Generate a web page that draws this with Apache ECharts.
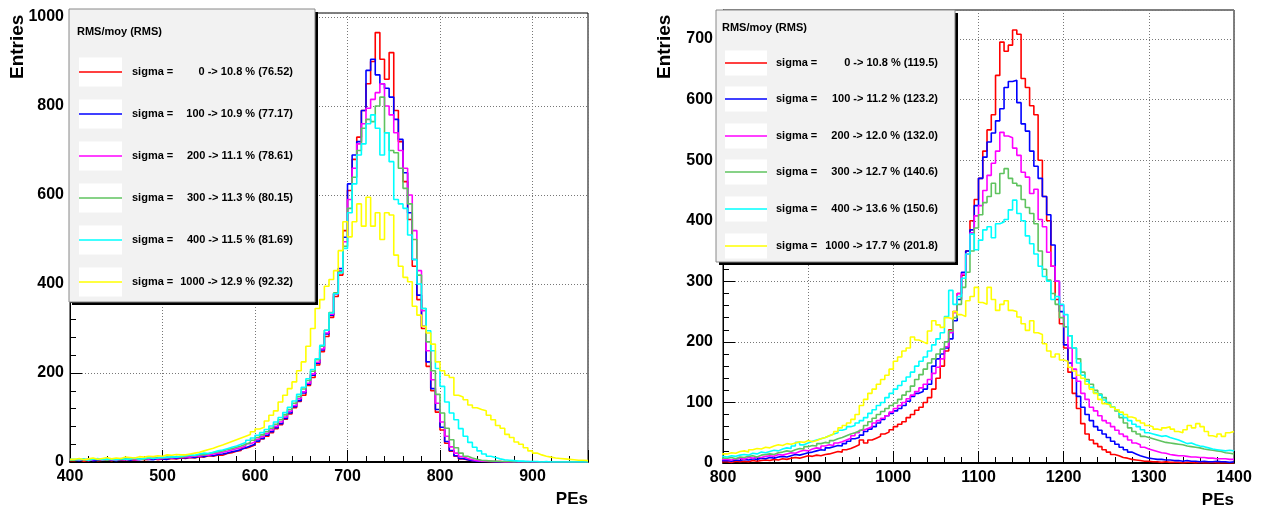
<!DOCTYPE html>
<html><head><meta charset="utf-8">
<script src="https://cdn.jsdelivr.net/npm/echarts@6/dist/echarts.min.js"></script>
<style>html,body{margin:0;padding:0;background:#fff}#c{width:1261px;height:511px}</style>
</head><body><div id="c"></div>
<script>
const FONT = '"Liberation Sans", Arial, Helvetica, sans-serif';
const seriesColors = ['#ff0000', '#0000ff', '#ff00ff', '#5fc35f', '#00ffff', '#ffff00'];
const legendTitle = 'RMS/moy (RMS)';
const legendPrefix = 'sigma =';
const leftLegendValues = ['0 -> 10.8 % (76.52)', '100 -> 10.9 % (77.17)', '200 -> 11.1 % (78.61)', '300 -> 11.3 % (80.15)', '400 -> 11.5 % (81.69)', '1000 -> 12.9 % (92.32)'];
const rightLegendValues = ['0 -> 10.8 % (119.5)', '100 -> 11.2 % (123.2)', '200 -> 12.0 % (132.0)', '300 -> 12.7 % (140.6)', '400 -> 13.6 % (150.6)', '1000 -> 17.7 % (201.8)'];
const xAxisTitle = 'PEs';
const yAxisTitle = 'Entries';

// Left panel: bins of 5 PE starting at 400
const leftBinStart = 400, leftBinWidth = 5;
const leftSigma0 = [
 3,5,2,4,6,3,4,5,3,6,4,5,
 5,4,7,5,6,8,5,7,6,8,7,9,
 8,10,9,12,11,14,13,16,15,19,21,24,
 26,31,34,38,45,52,58,66,75,84,96,108,
 122,136,150,172,190,218,248,282,325,372,420,520,
 610,680,730,790,850,900,965,905,860,920,790,720,
 630,545,440,365,300,215,160,112,72,42,24,13,
 7,5,3,2,2,1,1,0,1,0,0,0,
 0,0,0,0,0,0,0,0,0,0,0,0,0,0,0,0];
const leftSigma100 = [
 4,3,5,6,3,4,6,4,5,3,5,6,
 4,6,5,7,6,5,8,7,6,9,8,10,
 9,11,10,13,12,15,14,17,18,20,23,25,
 28,32,36,40,47,53,60,68,77,86,98,110,
 124,138,155,175,195,222,252,288,330,378,435,505,
 625,690,720,790,880,905,870,850,840,820,770,725,
 650,560,455,375,305,225,165,118,78,46,26,14,
 8,5,3,2,1,1,1,0,0,1,0,0,
 0,0,0,0,0,0,0,0,0,0,0,0,0,0,0,0];
const leftSigma200 = [
 5,4,6,3,5,7,4,6,5,4,6,5,
 7,5,6,8,6,9,7,8,10,9,11,10,
 12,11,14,13,16,15,18,20,22,24,27,30,
 32,36,41,45,51,57,64,72,80,90,101,114,
 127,142,158,177,198,224,254,290,332,378,430,495,
 590,660,715,760,795,815,830,850,800,780,740,700,
 660,600,520,430,340,250,185,132,90,58,34,20,
 12,8,5,3,2,2,1,1,1,0,0,1,
 0,0,1,0,0,0,0,0,0,0,0,0,0,0,0,0];
const leftSigma300 = [
 4,6,5,4,7,5,6,4,7,5,6,7,
 6,8,7,6,9,8,10,9,11,10,12,11,
 13,15,14,17,16,19,21,23,25,28,30,33,
 36,40,44,49,55,61,68,76,85,95,106,118,
 132,147,164,183,204,230,260,296,336,380,428,485,
 570,640,700,750,770,765,800,820,740,700,695,660,
 615,580,500,420,345,270,205,152,110,76,50,32,
 20,13,9,6,4,3,2,2,1,1,1,0,
 1,0,0,1,0,0,0,0,0,0,0,0,0,0,0,0];
const leftSigma400 = [
 6,5,7,4,6,8,5,7,6,5,8,6,
 7,9,6,8,10,8,9,11,10,12,11,13,
 14,16,15,18,20,19,22,25,27,30,33,36,
 40,44,49,54,60,66,73,81,90,100,111,123,
 137,152,168,187,208,232,262,296,335,378,425,480,
 560,625,690,715,760,780,750,690,740,675,590,580,
 570,510,455,400,345,295,250,210,170,135,110,95,
 75,58,44,33,25,18,13,10,7,5,4,3,
 2,2,1,1,1,0,1,0,0,0,0,0,0,0,0,0];
const leftSigma1000 = [
 6,8,5,7,9,6,8,10,7,9,8,11,
 10,9,12,11,13,12,14,13,16,15,17,16,
 16,18,20,22,25,28,31,35,38,42,46,50,
 54,58,62,68,74,78,92,105,115,135,150,165,
 180,205,225,260,300,345,365,395,410,430,475,540,
 506,540,580,530,595,530,560,500,560,555,465,440,
 415,405,350,330,305,290,265,225,205,195,190,150,
 146,140,128,122,118,115,105,95,82,76,62,55,
 45,40,32,25,20,16,13,11,9,8,7,6,5,4,4,3];

// Right panel: bins of 5 PE starting at 790
const rightBinStart = 790, rightBinWidth = 5;
const rightSigma0 = [
 1,2,
 2,1,3,2,3,2,4,3,4,5,
 4,6,5,7,6,8,9,8,10,12,
 11,13,12,14,15,17,19,18,22,24,
 27,30,38,33,38,41,44,48,51,55,
 60,64,68,75,80,87,92,100,108,122,
 140,160,185,220,250,280,310,350,400,435,
 470,515,550,575,640,695,680,690,715,708,
 635,620,590,575,500,440,400,325,270,230,
 190,150,115,90,65,48,38,32,27,22,
 18,14,12,9,8,6,5,4,3,3,
 2,2,1,2,1,1,1,0,1,1,0,1,0,0,1,0,0,0,0,0];
const rightSigma100 = [
 3,4,
 4,3,5,4,6,5,7,6,8,7,
 9,8,10,11,10,12,14,13,15,17,
 18,20,22,21,25,27,29,28,32,36,
 40,42,46,52,56,60,66,72,78,82,
 86,90,95,102,110,115,118,122,130,160,
 172,180,190,205,235,270,315,350,385,425,
 470,505,530,545,565,585,620,630,632,595,
 560,548,515,490,470,440,410,360,300,250,
 195,165,140,110,92,80,70,60,54,48,
 42,36,31,26,22,18,15,12,10,8,
 7,6,6,5,5,4,4,3,4,3,3,2,3,2,2,3,2,2,1,2];
const rightSigma200 = [
 5,6,
 6,5,7,8,6,9,8,10,9,11,
 12,11,14,13,15,17,16,19,21,20,
 23,25,24,28,30,29,33,35,38,41,
 45,50,54,57,60,66,70,74,78,84,
 90,95,100,106,112,118,124,130,138,148,
 158,172,192,215,248,280,312,345,380,408,
 425,450,475,495,515,546,540,537,520,508,
 480,472,445,452,402,390,348,325,300,260,
 225,190,155,135,115,105,92,86,78,70,
 66,60,54,48,44,38,33,30,26,23,
 21,19,17,16,14,13,12,12,11,10,10,9,9,8,8,7,7,7,6,6];
const rightSigma300 = [
 7,8,
 8,9,7,10,9,11,12,10,13,14,
 15,14,17,18,20,19,22,24,23,27,
 29,28,32,34,33,37,40,42,45,48,
 50,53,56,62,68,74,80,85,90,95,
 99,105,112,118,127,138,146,155,165,172,
 180,188,200,218,240,262,290,315,350,388,
 410,430,440,462,445,478,486,470,462,458,
 435,422,412,395,350,320,302,280,262,240,
 225,210,190,172,150,138,130,120,114,108,
 100,92,86,75,66,58,52,48,44,42,
 40,38,36,34,33,32,31,30,28,27,26,25,23,22,21,20,19,17,16,15];
const rightSigma400 = [
 9,11,
 10,12,11,13,14,13,16,15,18,17,
 19,21,20,23,25,24,28,34,30,33,
 36,38,40,42,45,48,50,54,56,60,
 62,66,70,75,82,88,95,100,108,115,
 122,128,135,142,150,160,168,175,185,195,
 205,215,242,285,262,275,305,345,378,352,
 368,385,390,372,395,398,402,418,434,412,
 400,375,362,345,325,308,300,270,275,262,
 245,210,190,165,145,135,125,116,112,104,
 98,93,88,80,75,70,64,60,55,50,
 48,46,44,45,42,40,38,35,32,33,30,28,27,25,23,22,21,20,21,20];
const rightSigma1000 = [
 14,15,
 15,17,16,19,20,18,22,24,23,26,
 25,28,30,29,32,31,33,35,34,37,
 35,37,40,42,45,48,52,58,62,66,
 72,80,95,105,115,122,130,138,145,155,
 168,175,185,190,208,203,200,197,218,235,
 228,224,240,238,250,245,242,268,275,290,
 265,262,290,270,252,262,268,252,250,241,
 230,219,235,215,212,197,185,175,180,170,
 168,158,152,145,140,130,122,115,105,98,
 96,92,88,84,80,76,74,70,66,62,
 60,56,54,58,60,56,52,50,55,62,58,65,60,52,45,43,48,44,50,52];

const leftSeriesValues = [leftSigma0, leftSigma100, leftSigma200, leftSigma300, leftSigma400, leftSigma1000];
const rightSeriesValues = [rightSigma0, rightSigma100, rightSigma200, rightSigma300, rightSigma400, rightSigma1000];

function histData(start, w, vals) {
  const d = vals.map((v, i) => [start + i * w, v]);
  d.push([start + vals.length * w, vals[vals.length - 1]]);
  return d;
}

const chart = echarts.init(document.getElementById('c'), null, {renderer: 'canvas'});

function xAxisCfg(grid, min, max) {
  return {
    gridIndex: grid, type: 'value', min: min, max: max, interval: 100,
    axisLine: {show: true, onZero: false, lineStyle: {color: '#000', width: 2}},
    axisTick: {show: true, inside: true, length: 12, lineStyle: {color: '#000', width: 1}},
    minorTick: {show: true, splitNumber: 5, length: 6, lineStyle: {color: '#000', width: 1}},
    axisLabel: {color: '#000', fontFamily: FONT, fontWeight: 'bold', fontSize: 16, margin: 7,
      showMaxLabel: false, formatter: v => (v % 100 === 0 ? String(v) : '')},
    splitLine: {show: true, lineStyle: {color: '#777', width: 1, type: [1, 2]}},
    name: xAxisTitle, nameLocation: 'end', nameGap: 0,
    nameTextStyle: {color: '#000', fontFamily: FONT, fontWeight: 'bold', fontSize: 17, align: 'right', verticalAlign: 'top', padding: [29, 0, 0, 0]}
  };
}
function xAxisCfgRight(grid, min, max) {
  const c = xAxisCfg(grid, min, max);
  c.axisLabel.showMaxLabel = true;
  return c;
}
function yAxisCfg(grid, max, interval, margin) {
  return {
    gridIndex: grid, type: 'value', min: 0, max: max, interval: interval,
    axisLine: {show: true, lineStyle: {color: '#000', width: 1}},
    axisTick: {show: true, inside: true, length: 12, lineStyle: {color: '#000'}},
    minorTick: {show: true, splitNumber: 5, length: 6, lineStyle: {color: '#000'}},
    axisLabel: {color: '#000', fontFamily: FONT, fontWeight: 'bold', fontSize: 16, margin: margin,
      formatter: v => (v % interval === 0 ? String(v) : '')},
    splitLine: {show: true, lineStyle: {color: '#777', width: 1, type: [1, 2]}}
  };
}

const series = [];
leftSeriesValues.forEach((vals, k) => {
  series.push({type: 'line', xAxisIndex: 0, yAxisIndex: 0, step: 'end', symbol: 'none', clip: true, silent: true,
    data: histData(leftBinStart, leftBinWidth, vals), lineStyle: {color: seriesColors[k], width: 1.6}, itemStyle: {color: seriesColors[k]}});
});
rightSeriesValues.forEach((vals, k) => {
  series.push({type: 'line', xAxisIndex: 1, yAxisIndex: 1, step: 'end', symbol: 'none', clip: true, silent: true,
    data: histData(rightBinStart, rightBinWidth, vals), lineStyle: {color: seriesColors[k], width: 1.6}, itemStyle: {color: seriesColors[k]}});
});

function legendGraphic(box, sample, entryY, prefixX, valueRightX, titleX, titleY, values) {
  const els = [];
  els.push({type: 'rect', z: 100, shape: {x: box.x + 3, y: box.y + 3, width: box.w, height: box.h}, style: {fill: '#000'}});
  els.push({type: 'rect', z: 101, shape: {x: box.x, y: box.y, width: box.w, height: box.h}, style: {fill: '#f2f2f2', stroke: '#888', lineWidth: 1}});
  els.push({type: 'text', z: 102, x: titleX, y: titleY, style: {text: legendTitle, font: 'bold 11px ' + FONT, fill: '#000', textAlign: 'left', textVerticalAlign: 'middle'}});
  values.forEach((v, i) => {
    const cy = entryY[i];
    els.push({type: 'rect', z: 102, shape: {x: sample.x, y: cy - sample.h / 2, width: sample.w, height: sample.h}, style: {fill: '#fff'}});
    els.push({type: 'line', z: 103, shape: {x1: sample.x, y1: cy, x2: sample.x + sample.w, y2: cy}, style: {stroke: seriesColors[i], lineWidth: 1.6}});
    els.push({type: 'text', z: 103, x: prefixX, y: cy, style: {text: legendPrefix, font: 'bold 11px ' + FONT, fill: '#000', textAlign: 'left', textVerticalAlign: 'middle'}});
    els.push({type: 'text', z: 103, x: valueRightX, y: cy, style: {text: v, font: 'bold 11px ' + FONT, fill: '#000', textAlign: 'right', textVerticalAlign: 'middle'}});
  });
  return els;
}

const graphics = []
  .concat(legendGraphic({x: 69, y: 9, w: 246, h: 293}, {x: 79, w: 43, h: 29}, [72, 114, 156, 198, 240, 282], 132, 293, 77, 32, leftLegendValues))
  .concat(legendGraphic({x: 716, y: 10, w: 239, h: 252}, {x: 725, w: 42, h: 25}, [63, 99, 136, 172, 209, 246], 776, 938, 722, 28, rightLegendValues));
graphics.push({type: 'text', z: 110, x: 18, y: 79, rotation: Math.PI / 2, style: {text: yAxisTitle, font: 'bold 19px ' + FONT, fill: '#000', textAlign: 'left', textVerticalAlign: 'middle'}});
graphics.push({type: 'text', z: 110, x: 665, y: 79, rotation: Math.PI / 2, style: {text: yAxisTitle, font: 'bold 19px ' + FONT, fill: '#000', textAlign: 'left', textVerticalAlign: 'middle'}});

chart.setOption({
  animation: false,
  backgroundColor: '#fff',
  grid: [
    {left: 70, right: 673, top: 13, bottom: 49, show: true, borderColor: '#000', borderWidth: 1, backgroundColor: 'transparent'},
    {left: 723, right: 27, top: 10, bottom: 48, show: true, borderColor: '#000', borderWidth: 1, backgroundColor: 'transparent'}
  ],
  xAxis: [xAxisCfg(0, 400, 960), xAxisCfgRight(1, 800, 1400)],
  yAxis: [yAxisCfg(0, 1009, 200, 6), yAxisCfg(1, 748, 100, 10)],
  series: series,
  graphic: graphics
});
</script></body></html>
